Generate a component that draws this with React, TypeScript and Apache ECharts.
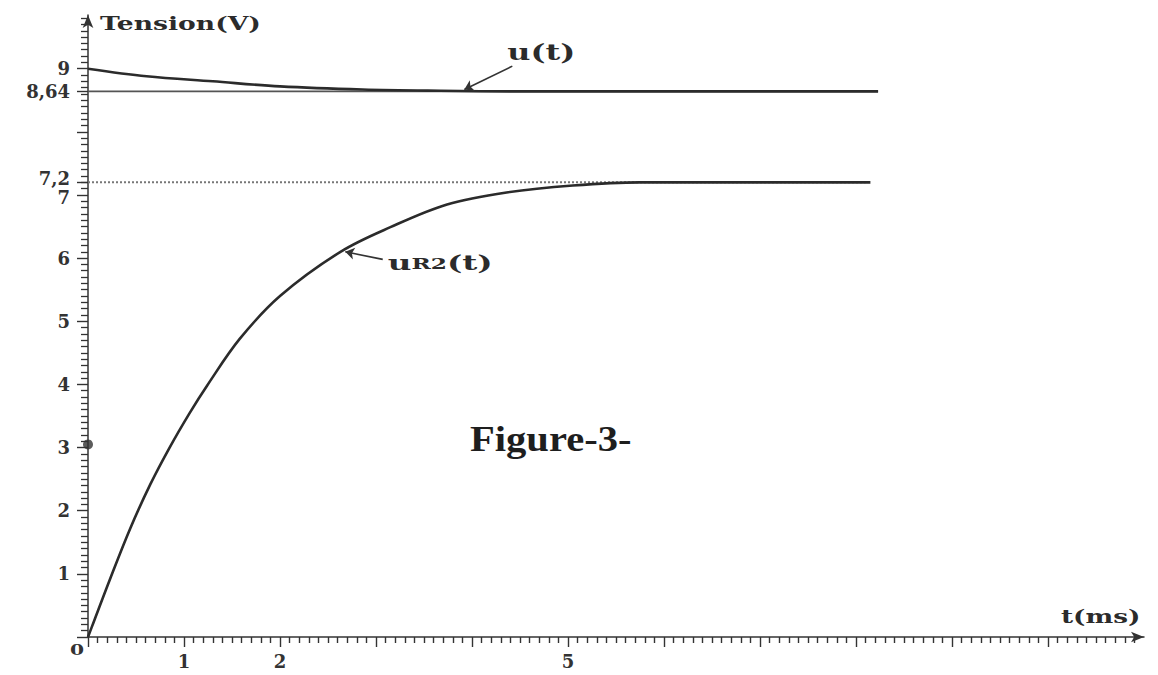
import React, { useEffect, useRef } from 'react';
import * as echarts from 'echarts';

// u(t) (t in ms, value in V)
const uTime = [0, 0.61, 1.3, 2.0, 2.86, 3.67, 4.5, 6.0, 8.23];
const uValues = [9.0, 8.88, 8.8, 8.72, 8.67, 8.65, 8.64, 8.64, 8.64];
// uR2(t)
const uR2Time = [0, 0.04, 0.23, 0.44, 0.65, 0.85, 1.06, 1.24, 1.58, 2.0, 2.63, 3.15, 3.74, 4.36, 5.05, 5.75, 8.15];
const uR2Values = [0, 0.16, 0.92, 1.72, 2.42, 3.0, 3.55, 3.98, 4.72, 5.4, 6.1, 6.49, 6.85, 7.04, 7.15, 7.2, 7.2];
// steady-state reference lines
const uSteady = [8.64, 8.64];
const uSteadyTime = [0, 8.23];
const uR2Steady = [7.2, 7.2];
const uR2SteadyTime = [0, 8.1];
// marked point on the axis
const markedPoint = [0, 3.05];
// tick labels
const yTickLabels = [1, 2, 3, 4, 5, 6, 7, 7.2, 8.64, 9];
const yMajorTicks = [0, 1, 2, 3, 4, 5, 6, 7, 7.2, 8, 8.64, 9];
const xTickLabels = [1, 2, 5];
const xMajorTicks = [0, 1, 2, 3, 4, 5, 6, 7, 8, 9, 10];

const zip = (a: number[], b: number[]) => a.map((v, i) => [v, b[i]]);

const FONT = 'DejaVu Serif';
const INK = '#2b2b2b';

export default function App() {
  const ref = useRef<HTMLDivElement>(null);
  useEffect(() => {
    if (!ref.current) return;
    const chart = echarts.init(ref.current, undefined, { renderer: 'svg' });
    const xMin = 0, xMax = 11, yMin = 0, yMax = 9.85;
    const grid = { left: 88, right: 14, top: 15, bottom: 38 };
    const labelFont = { fontFamily: FONT, fontWeight: 'bold' as const, fontSize: 18, color: '#333' };
    chart.setOption({
      animation: false,
      backgroundColor: '#ffffff',
      grid,
      xAxis: {
        type: 'value', min: xMin, max: xMax, interval: 1, position: 'bottom',
        axisLine: { show: true, onZero: false, lineStyle: { color: '#333', width: 1.5 }, symbol: ['none', 'arrow'], symbolSize: [8, 13] },
        axisTick: { show: true, customValues: xMajorTicks, length: 10, lineStyle: { color: '#333', width: 1.4 } },
        minorTick: { show: true, splitNumber: 10, length: 6, lineStyle: { color: '#333', width: 1.4 } },
        axisLabel: { show: true, customValues: xTickLabels, margin: 15, ...labelFont },
        splitLine: { show: false },
        minorSplitLine: { show: false },
      },
      yAxis: {
        type: 'value', min: yMin, max: yMax, interval: 1, position: 'left',
        axisLine: { show: true, onZero: false, lineStyle: { color: '#333', width: 1.5 }, symbol: ['none', 'arrow'], symbolSize: [8, 13] },
        axisTick: { show: true, customValues: yMajorTicks, length: 11, lineStyle: { color: '#333', width: 1.4 } },
        minorTick: { show: true, splitNumber: 10, length: 7, lineStyle: { color: '#333', width: 1.3 } },
        axisLabel: {
          show: true, customValues: yTickLabels, margin: 18, ...labelFont,
          formatter: (v: number) => {
            const s = String(v).replace('.', ',');
            if (v === 7.2) return '{up|' + s + '}';
            if (v === 7) return '{dn|' + s + '}';
            return s;
          },
          rich: {
            up: { ...labelFont, padding: [0, 0, 7, 0] },
            dn: { ...labelFont, padding: [5, 0, 0, 0] },
          },
        },
        splitLine: { show: false },
        minorSplitLine: { show: false },
      },
      series: [
        {
          type: 'line', name: 'u steady', data: zip(uSteadyTime, uSteady), symbol: 'none',
          lineStyle: { color: '#555', width: 1.6 }, silent: true,
        },
        {
          type: 'line', name: 'uR2 steady', data: zip(uR2SteadyTime, uR2Steady), symbol: 'none',
          lineStyle: { color: '#777', width: 2, type: [2, 2] }, silent: true,
        },
        {
          type: 'line', name: 'u(t)', data: zip(uTime, uValues), symbol: 'none', smooth: 0.35,
          lineStyle: { color: INK, width: 2.6 }, silent: true,
          markLine: {
            silent: true, symbol: ['none', 'arrow'], symbolSize: 9,
            lineStyle: { color: '#333', width: 1.6, type: 'solid' }, label: { show: false },
            data: [[{ coord: [4.42, 9.04] }, { coord: [3.92, 8.67] }]],
          },
        },
        {
          type: 'line', name: 'uR2(t)', data: zip(uR2Time, uR2Values), symbol: 'none', smooth: 0.35,
          lineStyle: { color: INK, width: 2.6 }, silent: true,
          markLine: {
            silent: true, symbol: ['none', 'arrow'], symbolSize: 9,
            lineStyle: { color: '#333', width: 1.6, type: 'solid' }, label: { show: false },
            data: [[{ coord: [3.07, 5.98] }, { coord: [2.68, 6.1] }]],
          },
        },
        {
          type: 'scatter', data: [markedPoint], symbolSize: 10,
          itemStyle: { color: '#333' }, clip: false, silent: true,
        },
      ],
    });

    const p = (x: number, y: number) => chart.convertToPixel({ xAxisIndex: 0, yAxisIndex: 0 }, [x, y]) as number[];
    const origin = p(0, 0);
    const yTop = p(0, yMax);
    const xEnd = p(xMax, 0);
    const uTail = p(4.42, 9.04);
    const rTail = p(3.07, 5.98);
    const bold = (size: number) => `bold ${size}px "${FONT}"`;
    chart.setOption({
      graphic: [
        { type: 'text', x: origin[0] + 12, y: yTop[1] + 8, scaleX: 1.4, silent: true,
          style: { text: 'Tension(V)', font: bold(19), fill: INK, align: 'left', verticalAlign: 'middle' } },
        { type: 'text', x: xEnd[0] - 83, y: xEnd[1] - 21, scaleX: 1.38, silent: true,
          style: { text: 't(ms)', font: bold(19), fill: INK, align: 'left', verticalAlign: 'middle' } },
        { type: 'text', x: origin[0] - 18, y: origin[1] + 13, scaleX: 1.35, silent: true,
          style: { text: '0', font: bold(15), fill: '#333', align: 'left', verticalAlign: 'middle' } },
        { type: 'text', x: uTail[0] - 5, y: uTail[1] - 14, scaleX: 1.45, silent: true,
          style: { text: 'u(t)', font: bold(22), fill: INK, align: 'left', verticalAlign: 'middle' } },
        { type: 'text', x: rTail[0] + 5, y: rTail[1] + 1, scaleX: 1.55, silent: true,
          style: {
            text: '{u|u}{s|R2}{u|(t)}', fill: INK, align: 'left', verticalAlign: 'middle',
            rich: {
              u: { fontFamily: FONT, fontWeight: 'bold', fontSize: 21, fill: INK, lineHeight: 24, verticalAlign: 'bottom' },
              s: { fontFamily: FONT, fontWeight: 'bold', fontSize: 15, fill: INK, lineHeight: 24, verticalAlign: 'bottom', padding: [0, 0, 1, 0] },
            },
          } },
        { type: 'text', x: 470, y: 439, scaleX: 1.16, silent: true,
          style: { text: 'Figure-3-', font: 'bold 35px "Liberation Serif"', fill: '#1e1e1e', align: 'left', verticalAlign: 'middle' } },
      ],
    });
    return () => chart.dispose();
  }, []);
  return <div ref={ref} style={{ position: 'fixed', left: 0, top: 0, width: 1158, height: 675, background: '#fff' }} />;
}
